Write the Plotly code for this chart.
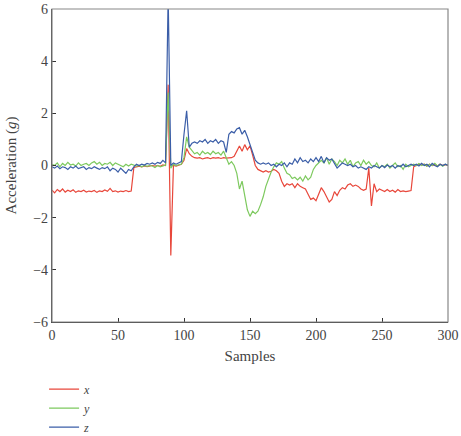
import plotly.graph_objects as go

samples = list(range(0, 301, 2))

acc_x = [
    -0.95, -1.05, -0.92, -1.00, -0.90, -1.02, -0.95, -1.00, -0.93, -1.03,
    -0.97, -1.00, -0.95, -1.02, -0.98, -1.00, -0.96, -1.03, -0.97, -1.00,
    -0.94, -0.99, -0.88, -1.00, -0.97, -1.02, -0.98, -1.00, -0.96, -1.00,
    -0.98, -0.08, -0.05, -0.03, -0.05, -0.02, -0.04, -0.02, 0.00, -0.02,
    0.00, -0.03, 0.02, 0.00, 3.10, -3.45, 0.00, -0.02, 0.02, 0.05,
    0.20, 0.65, 0.45, 0.35, 0.30, 0.28, 0.30, 0.25, 0.28, 0.30,
    0.26, 0.30, 0.28, 0.30, 0.27, 0.30, 0.28, 0.30, 0.30, 0.35,
    0.55, 0.75, 0.55, 0.80, 0.60, 0.75, 0.40, 0.00, -0.15, -0.20,
    -0.25, -0.20, -0.25, -0.22, -0.15, -0.20, -0.30, -0.60, -0.80, -0.70,
    -0.75, -0.70, -0.85, -0.70, -0.80, -0.85, -0.90, -1.10, -1.30, -1.25,
    -1.35, -1.10, -0.85, -1.00, -1.20, -1.40, -1.30, -1.00, -1.15, -0.95,
    -0.85, -0.90, -0.75, -0.70, -0.80, -0.75, -0.80, -0.90, -0.95, -0.90,
    -0.10, -1.55, -0.70, -1.00, -0.90, -0.95, -1.00, -0.92, -1.00, -0.95,
    -1.02, -0.92, -1.00, -0.97, -1.00, -0.98, -0.96, -0.05, 0.00, 0.05,
    0.02, 0.05, -0.02, 0.05, 0.00, 0.03, -0.02, 0.05, 0.00, 0.03,
    0.00,
]

acc_y = [
    0.05, 0.00, 0.10, -0.05, 0.08, 0.00, 0.12, 0.02, 0.05, -0.02,
    0.10, 0.00, 0.05, 0.08, 0.00, 0.10, 0.15, 0.05, 0.12, 0.00,
    0.08, 0.05, 0.12, 0.00, 0.10, 0.05, 0.02, -0.05, 0.05, -0.02,
    0.05, 0.00, -0.02, 0.00, -0.05, 0.00, -0.03, 0.00, -0.02, -0.08,
    0.00, -0.05, 0.00, 0.02, 2.80, -0.10, 0.05, 0.00, 0.03, 0.05,
    0.30, 1.10, 0.70, 0.55, 0.45, 0.50, 0.40, 0.55, 0.45, 0.50,
    0.42, 0.55, 0.45, 0.50, 0.40, 0.55, 0.30, 0.05, 0.15, 0.00,
    -0.30, -0.90, -0.60, -1.20, -1.70, -1.95, -1.75, -1.85, -1.75, -1.50,
    -1.20, -0.80, -0.50, -0.25, -0.05, 0.10, 0.05, 0.15, -0.10, -0.30,
    -0.35, -0.50, -0.45, -0.55, -0.45, -0.60, -0.40, -0.55, -0.45, -0.15,
    0.00, 0.10, 0.20, 0.10, 0.30, 0.05, 0.25, 0.15, 0.00, 0.20,
    0.10, 0.25, 0.05, 0.20, -0.05, 0.10, 0.15, 0.00, 0.20, 0.05,
    0.15, 0.00, -0.05, 0.10, -0.10, 0.00, -0.05, 0.05, -0.10, 0.00,
    0.10, -0.05, 0.00, -0.15, 0.05, -0.05, 0.00, 0.05, 0.00, 0.08,
    0.00, 0.05, -0.03, 0.05, 0.00, 0.08, -0.02, 0.05, -0.03, 0.05,
    0.00,
]

acc_z = [
    -0.05, -0.10, -0.02, -0.12, -0.05, -0.08, -0.15, -0.05, -0.10, -0.02,
    -0.12, -0.08, -0.05, -0.15, -0.08, -0.12, -0.05, -0.10, -0.15, -0.08,
    -0.12, -0.05, -0.20, -0.10, -0.15, -0.25, -0.10, -0.20, -0.30, -0.15,
    -0.20, -0.05, 0.05, 0.00, 0.05, 0.02, 0.08, 0.05, 0.10, 0.05,
    0.12, 0.08, 0.20, 0.10, 6.50, 0.00, 0.10, 0.05, 0.10, 0.15,
    1.20, 2.10, 0.70, 0.85, 0.90, 0.85, 0.95, 0.90, 1.00, 0.85,
    0.95, 0.90, 1.00, 0.85, 0.95, 0.90, 0.50, 1.20, 1.30, 1.25,
    1.40, 1.45, 1.20, 1.35, 1.10, 0.80, 0.50, 0.20, 0.10, 0.05,
    0.10, 0.05, 0.10, 0.00, 0.05, -0.05, 0.05, 0.00, 0.10, -0.05,
    0.10, 0.05, 0.25, 0.10, 0.30, 0.15, 0.20, 0.10, 0.25, 0.15,
    0.30, 0.15, 0.35, 0.10, 0.30, 0.20, 0.25, 0.05, -0.10, 0.00,
    0.10, 0.05, 0.00, 0.05, -0.05, 0.00, -0.10, -0.05, -0.10, -0.15,
    -0.05, -0.10, 0.00, -0.05, -0.10, 0.00, -0.08, 0.02, -0.05, 0.00,
    -0.10, 0.00, -0.05, 0.05, -0.05, 0.00, 0.05, 0.00, 0.05, -0.02,
    0.08, 0.00, 0.05, -0.05, 0.08, 0.00, -0.05, 0.05, 0.00, 0.05,
    0.00,
]

series_names = ["<i>x</i>", "<i>y</i>", "<i>z</i>"]
series_colors = ["#e8473b", "#7dc95e", "#3b5ea8"]
x_ticks = [0, 50, 100, 150, 200, 250, 300]
y_ticks = [-6, -4, -2, 0, 2, 4, 6]

FONT = "Liberation Serif"

fig = go.Figure()
for name, vals, col in zip(series_names, [acc_x, acc_y, acc_z], series_colors):
    fig.add_trace(go.Scatter(x=samples, y=vals, mode="lines", name=name,
                             line=dict(color=col, width=1.2)))

fig.update_layout(
    width=461, height=436,
    margin=dict(l=52, r=13, t=9, b=114, autoexpand=False),
    paper_bgcolor="white", plot_bgcolor="white",
    font=dict(family=FONT, size=14, color="#444"),
    showlegend=True,
    legend=dict(x=-0.02, y=-0.168, xanchor="left", yanchor="top",
                font=dict(family=FONT, size=12, color="#444"),
                bgcolor="rgba(0,0,0,0)", tracegroupgap=0, itemwidth=30),
    shapes=[dict(type="rect", xref="paper", yref="paper", x0=0, x1=1, y0=0, y1=1,
                 line=dict(color="#888", width=1.2), layer="above")],
)
fig.update_xaxes(range=[0, 300], tickvals=x_ticks, showgrid=False, zeroline=False,
                 showline=True, linecolor="#333", linewidth=1.3, automargin=False,
                 ticks="inside", ticklen=4, tickcolor="#333",
                 title=dict(text="Samples", standoff=8, font=dict(size=15)))
fig.update_yaxes(range=[-6, 6], tickvals=y_ticks, showgrid=False, zeroline=False,
                 showline=True, linecolor="#333", linewidth=1.3, automargin=False,
                 ticks="inside", ticklen=4, tickcolor="#333",
                 title=dict(text="Acceleration (<i>g</i>)", standoff=12, font=dict(size=15)))

fig.write_html("out.html")
